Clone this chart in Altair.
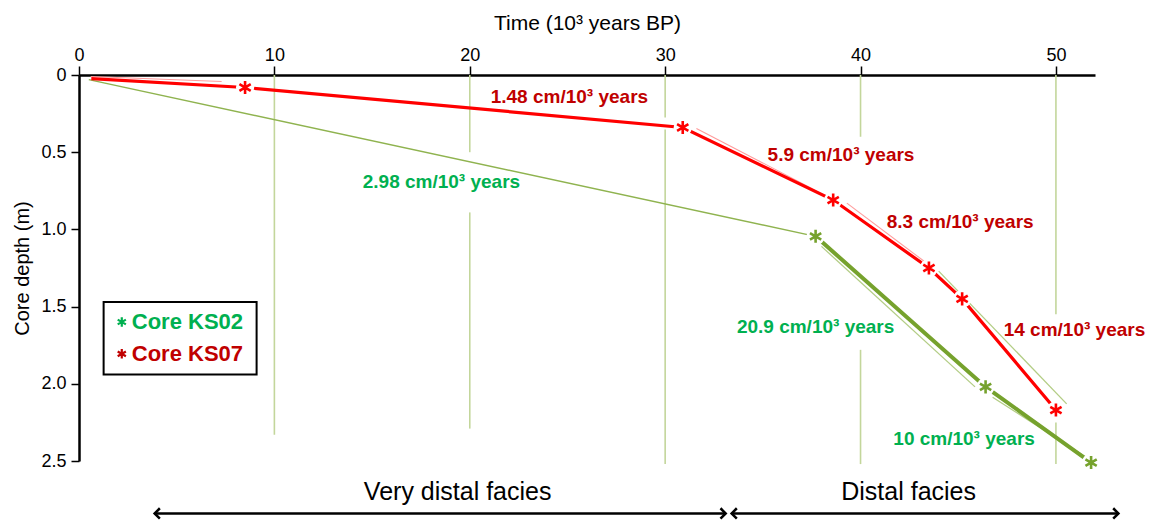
import altair as alt
import pandas as pd

FONT = "Liberation Sans"

# ---------------- data ----------------
# Core KS07: age (10^3 yr BP) and depth (m); first point is the line origin
ks07_age = [0.63, 8.5, 30.9, 38.6, 43.5, 45.2, 50.0]
ks07_depth = [0.023, 0.081, 0.34, 0.81, 1.25, 1.45, 2.17]

# Core KS02: thin segment from origin, then dated points
ks02_origin_age = [0.5, 37.7]
ks02_origin_depth = [0.03, 1.045]
ks02_age = [37.7, 46.4, 51.8]
ks02_depth = [1.045, 2.02, 2.51]

# thin regression (fit) lines drawn beside the segments
fit_red_seg = ["a", "a", "b", "b", "c", "c"]
fit_red_age = [0.6, 7.3, 31.6, 38.2, 39.3, 43.46]
fit_red_depth = [0.01, 0.042, 0.346, 0.78, 0.83, 1.226]
fit_green_seg = ["d", "d", "e", "e", "f", "f"]
fit_green_age = [44.0, 50.55, 38.0, 45.86, 46.76, 51.74]
fit_green_depth = [1.27, 2.13, 1.11, 2.02, 2.087, 2.49]

# broken vertical guide lines
grid_x = [10, 20, 20, 30, 30, 40, 40, 50, 50]
grid_top = [0, 0, 0.89, 0, 0.353, 0, 1.78, 0, 2.25]
grid_bottom = [2.33, 0.5, 2.29, 0.275, 2.52, 0.40, 2.52, 1.55, 2.52]

# sedimentation-rate labels
rate_text = ["1.48 cm/10³ years", "5.9 cm/10³ years", "8.3 cm/10³ years",
             "14 cm/10³ years", "2.98 cm/10³ years", "20.9 cm/10³ years",
             "10 cm/10³ years"]
rate_core = ["KS07", "KS07", "KS07", "KS07", "KS02", "KS02", "KS02"]
rate_age = [25.1, 39.0, 45.1, 50.95, 18.55, 37.7, 45.3]
rate_depth = [0.14, 0.515, 0.95, 1.65, 0.695, 1.63, 2.36]

# legend box and entries (data units)
legend_box_age = [1.26, 9.09]
legend_box_depth = [1.47, 1.94]
legend_labels = ["Core KS02", "Core KS07"]
legend_core = ["KS02", "KS07"]
legend_sym_age = [2.19, 2.19]
legend_text_age = [2.7, 2.7]
legend_depth = [1.60, 1.806]

# facies arrows
facies_text = ["Very distal facies", "Distal facies"]
facies_start = [3.87, 33.4]
facies_end = [33.1, 53.2]
facies_center = [19.38, 42.46]
facies_arrow_depth = [2.84, 2.84]
facies_text_depth = [2.70, 2.70]

x_ticks = [0, 10, 20, 30, 40, 50]
y_ticks = [0, 0.5, 1.0, 1.5, 2.0, 2.5]

# ---------------- chart ----------------
xs = alt.Scale(domain=[0, 52], nice=False, zero=False)
ys = alt.Scale(domain=[0, 2.5], nice=False, zero=False, reverse=True)

AST = "M0,-1L0,1M-0.866,-0.5L0.866,0.5M-0.866,0.5L0.866,-0.5"
CHEV_L = "M1,-1L0,0L1,1"
CHEV_R = "M-1,-1L0,0L-1,1"

text_color = alt.Color("core:N", scale=alt.Scale(domain=["KS02", "KS07"],
                                                  range=["#00b050", "#c00000"]),
                       legend=None)

x_axis = alt.Axis(orient="top", values=x_ticks, title="Time (10³ years BP)",
                  grid=False, domainColor="black", domainWidth=2.5,
                  tickColor="black", tickWidth=1.5, tickSize=9,
                  labelFont=FONT, labelFontSize=18, labelColor="black",
                  labelPadding=2, labelFlush=False,
                  titleFont=FONT, titleFontSize=21, titleFontWeight="normal",
                  titleColor="black", titlePadding=13)
y_axis = alt.Axis(orient="left", values=y_ticks, title="Core depth (m)",
                  labelExpr="datum.value == 0 ? '0' : format(datum.value, '.1f')",
                  grid=False, domainColor="black", domainWidth=2.5,
                  tickColor="black", tickWidth=1.5, tickSize=8,
                  labelFont=FONT, labelFontSize=18, labelColor="black",
                  labelPadding=5, labelFlush=False,
                  titleFont=FONT, titleFontSize=20, titleFontWeight="normal",
                  titleColor="black", titlePadding=8)


def X(f="x"):
    return alt.X(f"{f}:Q", scale=xs, axis=x_axis)


def Y(f="y"):
    return alt.Y(f"{f}:Q", scale=ys, axis=y_axis)


grid_df = pd.DataFrame({"x": grid_x, "y": grid_top, "y2": grid_bottom})
grid = alt.Chart(grid_df).mark_rule(color="#c3d69b", strokeWidth=1.6).encode(
    x=X(), y=Y(), y2="y2:Q")

fit_red = alt.Chart(pd.DataFrame({"x": fit_red_age, "y": fit_red_depth, "seg": fit_red_seg})
                    ).mark_line(color="#ff9c9c", strokeWidth=1.1).encode(
    x=X(), y=Y(), detail="seg:N")
fit_green = alt.Chart(pd.DataFrame({"x": fit_green_age, "y": fit_green_depth, "seg": fit_green_seg})
                      ).mark_line(color="#b3cd85", strokeWidth=1.3).encode(
    x=X(), y=Y(), detail="seg:N")

ks02_thin = alt.Chart(pd.DataFrame({"x": ks02_origin_age, "y": ks02_origin_depth})
                      ).mark_line(color="#8fb34f", strokeWidth=1.4).encode(x=X(), y=Y())
ks02_line = alt.Chart(pd.DataFrame({"x": ks02_age, "y": ks02_depth})
                      ).mark_line(color="#76a22d", strokeWidth=4).encode(x=X(), y=Y())
ks07_line = alt.Chart(pd.DataFrame({"x": ks07_age, "y": ks07_depth})
                      ).mark_line(color="#ff0000", strokeWidth=3.2).encode(x=X(), y=Y())

red_pts = pd.DataFrame({"x": ks07_age[1:], "y": ks07_depth[1:]})
green_pts = pd.DataFrame({"x": ks02_age, "y": ks02_depth})
all_pts = pd.concat([red_pts, green_pts], ignore_index=True)

gaps = alt.Chart(all_pts).mark_point(shape="circle", filled=True, color="white",
                                     opacity=1, size=330).encode(x=X(), y=Y())
red_mk = alt.Chart(red_pts).mark_point(shape=AST, filled=False, color="#ff0000",
                                       strokeWidth=2.6, size=170, opacity=1).encode(x=X(), y=Y())
green_mk = alt.Chart(green_pts).mark_point(shape=AST, filled=False, color="#76a22d",
                                           strokeWidth=2.6, size=170, opacity=1).encode(x=X(), y=Y())

rates = alt.Chart(pd.DataFrame({"x": rate_age, "y": rate_depth, "t": rate_text, "core": rate_core})
                  ).mark_text(font=FONT, fontSize=19, fontWeight="bold", baseline="middle"
                              ).encode(x=X(), y=Y(), text="t:N", color=text_color)

leg_box = alt.Chart(pd.DataFrame({"x": [legend_box_age[0]], "x2": [legend_box_age[1]],
                                  "y": [legend_box_depth[0]], "y2": [legend_box_depth[1]]})
                    ).mark_rect(fill="white", stroke="black", strokeWidth=2).encode(
    x=X(), x2="x2:Q", y=Y(), y2="y2:Q")
leg_df = pd.DataFrame({"xs": legend_sym_age, "xt": legend_text_age, "y": legend_depth,
                       "t": legend_labels, "core": legend_core})
leg_sym = alt.Chart(leg_df).mark_point(shape=AST, filled=False, strokeWidth=2.2,
                                       size=90, opacity=1).encode(
    x=X("xs"), y=Y(), color=text_color)
leg_txt = alt.Chart(leg_df).mark_text(font=FONT, fontSize=22, fontWeight="bold",
                                      align="left", baseline="middle").encode(
    x=X("xt"), y=Y(), text="t:N", color=text_color)

fac_df = pd.DataFrame({"x": facies_start, "x2": facies_end, "y": facies_arrow_depth,
                       "c": facies_center, "yt": facies_text_depth, "t": facies_text})
arrows = alt.Chart(fac_df).mark_rule(color="black", strokeWidth=2.5).encode(
    x=X(), x2="x2:Q", y=Y())
head_l = alt.Chart(fac_df).mark_point(shape=CHEV_L, filled=False, color="black",
                                      strokeWidth=2.5, size=110, opacity=1).encode(x=X(), y=Y())
head_r = alt.Chart(fac_df).mark_point(shape=CHEV_R, filled=False, color="black",
                                      strokeWidth=2.5, size=110, opacity=1).encode(x=X("x2"), y=Y())
fac_txt = alt.Chart(fac_df).mark_text(font=FONT, fontSize=25, color="black",
                                      baseline="middle").encode(
    x=X("c"), y=Y("yt"), text="t:N")

chart = alt.layer(
    grid, fit_red, fit_green, ks02_thin, ks02_line, ks07_line,
    gaps, red_mk, green_mk, rates, leg_box, leg_sym, leg_txt,
    arrows, head_l, head_r, fac_txt
).properties(
    width=1016, height=386,
    autosize=alt.AutoSizeParams(type="none"),
    padding={"left": 79, "top": 75, "right": 56, "bottom": 60},
    background="white",
).configure_view(stroke=None)

chart.save("out.html", embed_options={"renderer": "svg", "actions": False})
